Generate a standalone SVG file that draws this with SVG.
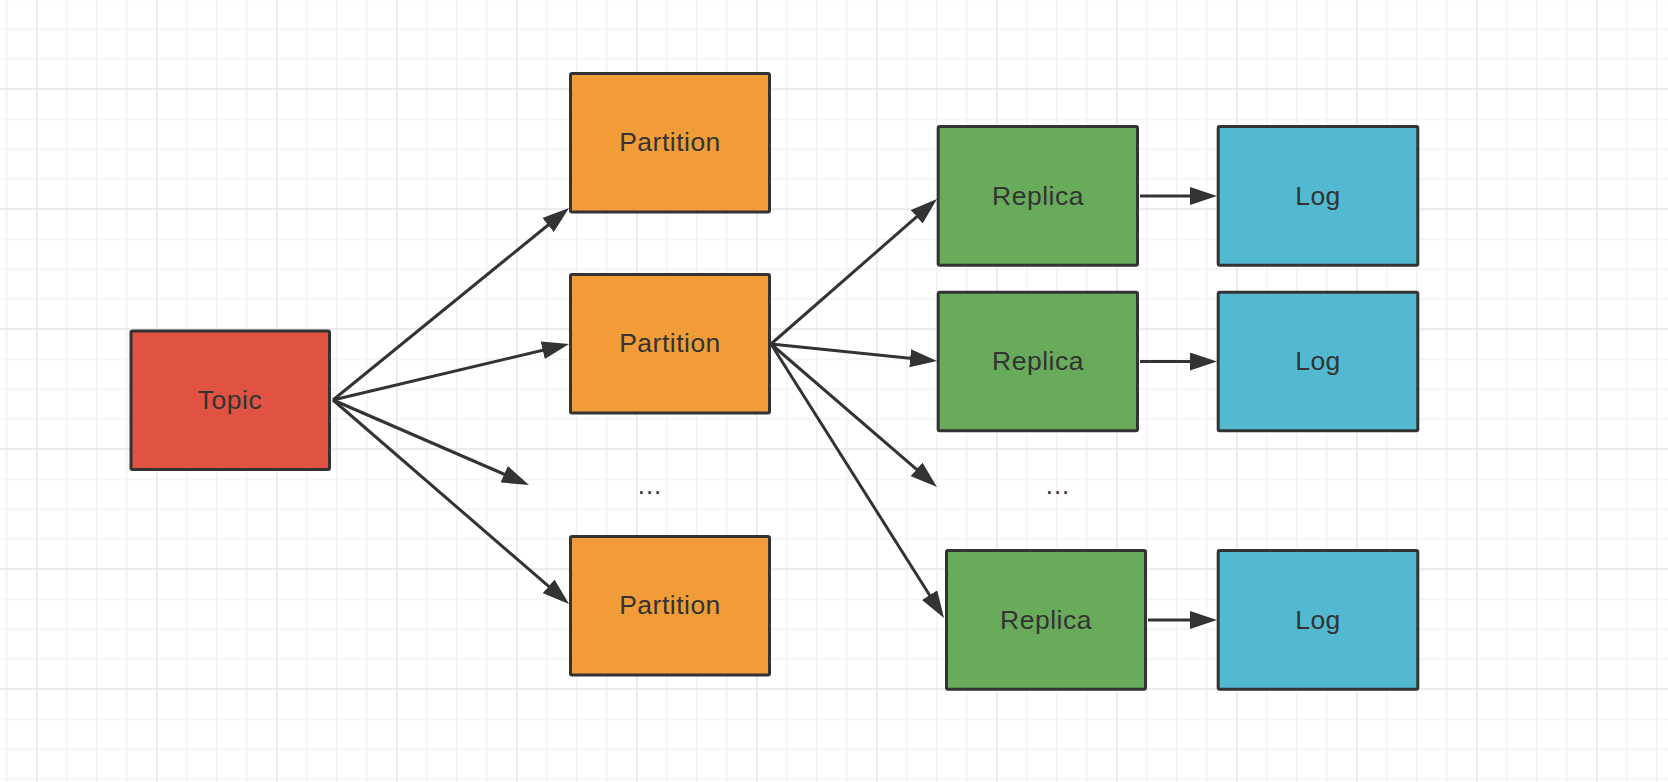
<svg xmlns="http://www.w3.org/2000/svg" width="1668" height="782" viewBox="0 0 1668 782">
  <defs>
    <pattern id="gridMinor" patternUnits="userSpaceOnUse" x="6" y="28.3" width="30" height="30">
      <rect x="0" y="0" width="1.5" height="30" fill="#f2f2f2"/>
      <rect x="0" y="0" width="30" height="1.5" fill="#f2f2f2"/>
    </pattern>
    <pattern id="gridMajor" patternUnits="userSpaceOnUse" x="36" y="88.3" width="120" height="120">
      <rect x="0" y="0" width="1.5" height="120" fill="#e8e8e8"/>
      <rect x="0" y="0" width="120" height="1.5" fill="#e8e8e8"/>
    </pattern>
    <marker id="arrow" markerUnits="userSpaceOnUse" viewBox="0 0 27 18" markerWidth="27" markerHeight="18" refX="12" refY="9" orient="auto">
      <path d="M0,0 L27,9 L0,18 Z" fill="#333333"/>
    </marker>
    <style>
      .box { stroke: #333333; stroke-width: 3; }
      .topic { fill: #e05342; }
      .partition { fill: #f19c38; }
      .replica { fill: #67ab5b; }
      .log { fill: #52b9d0; }
      .label { font-family: "Liberation Sans", Arial, Helvetica, sans-serif; font-size: 26.5px; fill: #333333; text-anchor: middle; letter-spacing: 0.5px; }
      .dots { font-family: "Liberation Sans", Arial, Helvetica, sans-serif; font-size: 26px; fill: #333333; text-anchor: middle; letter-spacing: 1px; }
      .edge { stroke: #333333; stroke-width: 3; fill: none; marker-end: url(#arrow); }
    </style>
  </defs>

  <rect x="0" y="0" width="1668" height="782" fill="#ffffff"/>
  <rect x="0" y="0" width="1668" height="782" fill="url(#gridMinor)"/>
  <rect x="0" y="0" width="1668" height="782" fill="url(#gridMajor)"/>

  <g id="connectors">
    <line class="edge" x1="333" y1="400" x2="557.4" y2="217.5"/>
    <line class="edge" x1="333" y1="400" x2="554.4" y2="347.5"/>
    <line class="edge" x1="333" y1="400" x2="515.2" y2="479.0"/>
    <line class="edge" x1="333" y1="400" x2="557.7" y2="594.2"/>
    <line class="edge" x1="771" y1="344" x2="925.7" y2="208.9"/>
    <line class="edge" x1="771" y1="344" x2="922.1" y2="359.5"/>
    <line class="edge" x1="771" y1="344" x2="925.6" y2="477.2"/>
    <line class="edge" x1="771" y1="344" x2="936.0" y2="605.3"/>
    <line class="edge" x1="1140" y1="196" x2="1202" y2="196"/>
    <line class="edge" x1="1140" y1="361.5" x2="1202" y2="361.5"/>
    <line class="edge" x1="1148" y1="620" x2="1202" y2="620"/>
  </g>

  <g id="topic">
    <rect class="box topic" x="131" y="331" width="198.5" height="138.5" rx="1.5"/>
    <text class="label" x="230" y="408.5">Topic</text>
  </g>

  <g id="partition1">
    <rect class="box partition" x="570.5" y="73.5" width="199" height="138.5" rx="1.5"/>
    <text class="label" x="670" y="151">Partition</text>
  </g>
  <g id="partition2">
    <rect class="box partition" x="570.5" y="274.5" width="199" height="138.5" rx="1.5"/>
    <text class="label" x="670" y="352">Partition</text>
  </g>
  <g id="partition-ellipsis">
    <text class="dots" x="650" y="494">...</text>
  </g>
  <g id="partition3">
    <rect class="box partition" x="570.5" y="536.5" width="199" height="138.5" rx="1.5"/>
    <text class="label" x="670" y="614">Partition</text>
  </g>

  <g id="replica1">
    <rect class="box replica" x="938.2" y="126.5" width="199.3" height="138.7" rx="1.5"/>
    <text class="label" x="1038" y="204.5">Replica</text>
  </g>
  <g id="replica2">
    <rect class="box replica" x="938.2" y="292.2" width="199.3" height="138.5" rx="1.5"/>
    <text class="label" x="1038" y="370">Replica</text>
  </g>
  <g id="replica-ellipsis">
    <text class="dots" x="1058" y="494">...</text>
  </g>
  <g id="replica3">
    <rect class="box replica" x="946.5" y="550.5" width="199" height="138.7" rx="1.5"/>
    <text class="label" x="1046" y="628.5">Replica</text>
  </g>

  <g id="log1">
    <rect class="box log" x="1218.2" y="126.5" width="199.6" height="138.7" rx="1.5"/>
    <text class="label" x="1318" y="204.5">Log</text>
  </g>
  <g id="log2">
    <rect class="box log" x="1218.2" y="292.2" width="199.6" height="138.5" rx="1.5"/>
    <text class="label" x="1318" y="370">Log</text>
  </g>
  <g id="log3">
    <rect class="box log" x="1218.2" y="550.5" width="199.6" height="138.7" rx="1.5"/>
    <text class="label" x="1318" y="628.5">Log</text>
  </g>
</svg>
